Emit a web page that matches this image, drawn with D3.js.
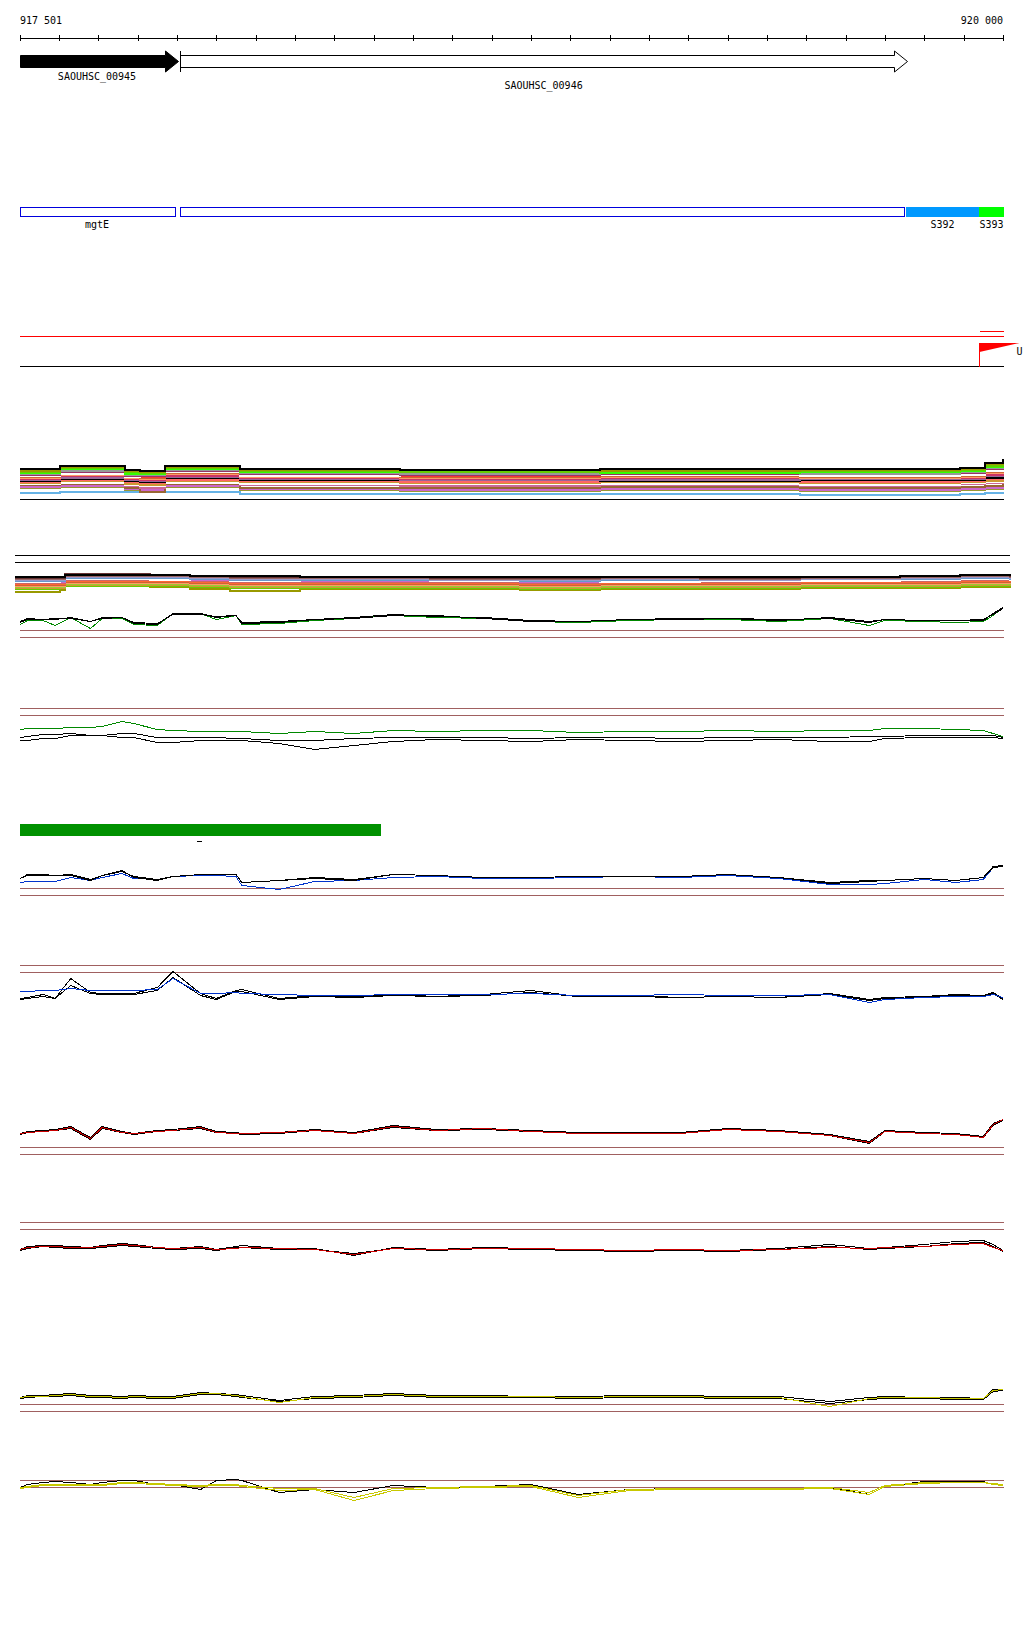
<!DOCTYPE html>
<html lang="en">
<head>
<meta charset="UTF-8">
<title>Genome browser tracks 917 501 - 920 000</title>
<style>
  body { margin: 0; background: #fff; }
  svg { display: block; font-family: "DejaVu Sans Mono", monospace; font-size: 10px; }
  .crisp { shape-rendering: crispEdges; }
</style>
</head>
<body>
<div id="chart"></div>
<script src="https://cdn.jsdelivr.net/npm/d3@7/dist/d3.min.js"></script>
<script>
// ---- data ----
var regionStart = 917501, regionEnd = 920000;
var rangeLabels = ["917 501", "920 000"];
var tickValues = d3.range(917500, 920001, 100);

// genes
var geneNames = ["SAOUHSC_00945", "SAOUHSC_00946"];
var geneStart = [917501, 917908];
var geneEnd = [917903, 919756];
var geneFilled = [true, false];

// annotated features
var featNames = ["mgtE", "", "S392", "S393"];
var featStart = [917501, 917908, 919753, 919939];
var featEnd = [917900, 919753, 919939, 920003];
var featColor = ["none", "none", "#0099ff", "#00ff00"];

// flag track
var flagPos = [919939];
var flagLabel = ["U"];

// green bar
var barStart = [917501];
var barEnd = [918420];
var dashPos = [917956];

// multicolour track A
var trackAPos = [917501, 917603, 917768, 917806, 917869, 918060, 918467, 918975, 919484, 919891, 919954, 920000];
var trackAColors = ["#000000", "#999900", "#66cc00", "#33ff00", "#999999", "#993366", "#ffffff", "#ff3333", "#cc6633", "#ff9966",
  "#cc3366", "#996699", "#000000", "#ff6666", "#cc9933", "#ffffff", "#cc6699", "#996633", "#cc66cc", "#999933", "#66b3e6"];
var trackAValues = [
  [30, 33, 29, 28, 33, 30, 29, 30, 30, 31, 36, 40],
  [28, 32, 28, 27, 32, 29, 29, 28, 29, 30, 35, 39],
  [27, 31, 27, 26, 31, 28, 27, 28, 28, 29, 33, 37],
  [26, 30, 25, 25, 30, 27, 27, 26, 27, 28, 32, 36],
  [25, 28, 24, 24, 29, 26, 25, 26, 25, 27, 31, 34],
  [24, 27, 23, 23, 28, 25, 24, 25, 25, 26, 30, 33],
  [23, 25, 22, 24, 27, 23, 25, 24, 23, 24, 28, 32],
  [23, 26, 23, 22, 27, 24, 23, 24, 24, 25, 29, 31],
  [22, 25, 22, 21, 26, 23, 22, 23, 22, 23, 27, 30],
  [21, 24, 21, 20, 25, 22, 21, 22, 21, 22, 26, 28],
  [20, 23, 20, 19, 23, 21, 20, 21, 21, 21, 24, 27],
  [19, 21, 19, 18, 22, 20, 19, 19, 20, 20, 23, 25],
  [18, 20, 18, 17, 21, 19, 19, 18, 19, 19, 21, 23],
  [17, 19, 17, 16, 19, 18, 17, 18, 17, 18, 20, 22],
  [16, 18, 15, 14, 18, 17, 16, 17, 16, 17, 18, 20],
  [15, 16, 14, 13, 16, 15, 15, 15, 14, 16, 17, 19],
  [16, 17, 13, 11, 17, 14, 13, 14, 13, 15, 16, 18],
  [14, 15, 11, 7, 15, 11, 11, 12, 11, 12, 13, 15],
  [12, 13, 10, 9, 13, 10, 9, 10, 9, 10, 11, 13],
  [11, 12, 9, 7, 12, 9, 8, 9, 8, 9, 10, 11],
  [6, 7, 7, 7, 7, 5, 5, 5, 4, 5, 6, 7]
];

// multicolour track B
var trackBPos = [917488, 917603, 917615, 917831, 917933, 918035, 918213, 918543, 918772, 918975, 919230, 919484, 919738, 919891, 920018];
var trackBColors = ["#000000", "#663333", "#996666", "#9999cc", "#6699cc", "#ffffff", "#cc66cc", "#cc6666", "#ff6633", "#cc6633",
  "#ff9966", "#99cc33", "#cc9933", "#66cc00", "#999900"];
var trackBValues = [
  [16, 16, 18, 18, 17, 17, 16, 16, 16, 16, 16, 16, 17, 18, 17],
  [15, 15, 19, 18, 17, 16, 16, 15, 15, 16, 15, 16, 17, 18, 16],
  [14, 14, 17, 17, 16, 15, 15, 14, 14, 15, 14, 15, 16, 17, 15],
  [13, 13, 16, 16, 15, 14, 14, 13, 13, 14, 13, 14, 15, 16, 14],
  [12, 12, 15, 15, 14, 13, 13, 13, 12, 13, 13, 14, 14, 15, 13],
  [11, 12, 14, 13, 14, 12, 13, 12, 12, 11, 12, 12, 13, 14, 12],
  [11, 11, 14, 14, 13, 12, 12, 12, 11, 12, 12, 13, 13, 14, 13],
  [10, 10, 13, 13, 12, 11, 11, 11, 10, 11, 11, 12, 12, 13, 12],
  [9, 9, 12, 12, 11, 10, 10, 10, 9, 10, 10, 11, 11, 12, 11],
  [8, 8, 11, 11, 10, 9, 9, 9, 8, 9, 9, 10, 10, 11, 10],
  [7, 7, 10, 10, 9, 8, 8, 8, 7, 8, 8, 9, 9, 10, 9],
  [6, 6, 9, 9, 8, 7, 7, 7, 6, 7, 7, 8, 8, 9, 8],
  [5, 5, 8, 8, 7, 6, 6, 6, 5, 6, 6, 7, 7, 8, 7],
  [4, 5, 7, 7, 6, 5, 5, 5, 4, 5, 5, 6, 6, 7, 6],
  [1, 3, 7, 6, 4, 2, 4, 4, 3, 4, 4, 5, 5, 6, 5]
];

// signal line tracks (shared positions)
var linePos = [917501, 917520, 917560, 917590, 917630, 917680, 917710, 917760, 917790, 917850, 917890, 917960, 918000,
  918050, 918065, 918160, 918250, 918350, 918450, 918560, 918680, 918800, 918920, 919050, 919180, 919300, 919430,
  919560, 919660, 919700, 919800, 919880, 919950, 919975, 920000];

var green1Black1 = [-2, 1, 1, 1, 3, -1, 3, 3, -3, -4, 7, 7, 3, 5, -2, -1, 1, 3, 6, 4, 3, 0, -1, 1, 2, 2, 0, 3, -1, 1, 0, 0, 0, 7, 13];
var green1Black2 = [-1, 2, 1, 2, 2, -1, 2, 3, -2, -3, 6, 6, 4, 5, -3, -2, 1, 2, 5, 5, 2, -1, -1, 1, 1, 2, 1, 2, -2, 1, 0, 0, 1, 6, 12];
var green1Green = [-4, 0, 0, -5, 3, -8, 2, 2, -4, -5, 7, 7, 1, 5, -4, -3, 0, 2, 5, 3, 2, -1, -2, 0, 1, 1, -1, 2, -5, 0, -1, -2, -1, 5, 13];

var green2Green = [6, 7, 7, 7, 8, 8, 9, 14, 12, 6, 5, 4, 4, 4, 4, 2, 4, 2, 5, 4, 5, 5, 3, 4, 4, 5, 4, 5, 5, 7, 7, 6, 5, 2, -1];
var green2Black1 = [-2, -1, 1, 1, 2, 0, 0, 2, 2, -2, -2, -2, -2, -3, -3, -5, -5, -3, -2, -2, -2, -3, -2, -2, -3, -2, -2, -2, -1, -1, 0, 0, 0, 0, -2];
var green2Black2 = [-5, -5, -3, -3, 0, 0, 0, -2, -2, -7, -7, -5, -5, -5, -5, -8, -14, -10, -6, -4, -5, -6, -4, -5, -6, -5, -4, -6, -6, -3, -2, -2, -2, -2, -3];

var blue1Black1 = [0, 3, 3, 3, 3, -2, 3, 8, 1, -2, 2, 4, 4, 4, -4, -2, 0, -2, 4, 3, 1, 1, 2, 2, 2, 4, 1, -4, -2, -2, 0, -2, 1, 12, 13];
var blue1Black2 = [0, 4, 4, 3, 4, -1, 3, 7, 2, -1, 2, 4, 4, 4, -4, -2, 1, -1, 4, 3, 1, 1, 2, 2, 2, 4, 1, -5, -3, -2, 0, -2, 1, 11, 12];
var blue1Blue = [-4, -3, -3, -3, 1, -2, 1, 5, 0, -1, 2, 3, 3, 2, -7, -11, -3, -2, 1, 2, 0, 0, 1, 2, 1, 3, 0, -6, -6, -5, -1, -4, -1, 11, 13];

var blue2Black1 = [-5, -4, -1, -5, 15, 1, 0, 0, 0, 6, 22, 0, -5, 3, 4, -5, -2, -3, -1, -3, -1, 3, -3, -2, -4, -3, -4, 0, -6, -4, -3, -1, -2, 1, -5];
var blue2Black2 = [-6, -5, -3, -5, 8, 0, -1, -1, -1, 3, 16, -2, -6, 2, 2, -6, -3, -4, -2, -3, -2, 1, -3, -3, -4, -3, -4, -1, -7, -5, -4, -2, -3, 0, -6];
var blue2Blue = [2, 2, 3, 3, 5, 3, 3, 3, 3, 4, 15, 0, 0, 1, 0, -1, -2, -2, -1, -1, -1, 0, -2, -2, -1, -2, -2, -1, -9, -6, -4, -3, -3, -1, -4];

var red1Black1 = [0, 2, 3, 4, 7, -4, 7, 2, 0, 3, 4, 7, 2, 1, 0, 1, 4, 1, 8, 4, 5, 3, 1, 1, 1, 5, 3, -1, -8, 3, 1, 0, -3, 10, 14];
var red1Black2 = [-1, 1, 2, 3, 5, -6, 5, 1, -1, 2, 3, 5, 1, 0, -1, 0, 3, 0, 6, 3, 4, 2, 0, 0, 0, 4, 2, -2, -10, 2, 0, -1, -4, 8, 13];
var red1Red = [0, 1, 2, 3, 6, -5, 6, 1, 0, 2, 3, 6, 1, 0, 0, 1, 3, 0, 7, 3, 5, 2, 0, 0, 0, 4, 2, -2, -9, 2, 0, -1, -4, 9, 14];

var red2Black1 = [-1, 2, 3, 3, 2, 1, 3, 5, 4, 1, 0, 2, -1, 2, 3, 0, 0, -7, 1, -1, 1, 0, -1, -2, -1, -2, 0, 4, 0, 1, 4, 7, 8, 4, -2];
var red2Black2 = [-2, 0, 2, 1, 0, 0, 1, 3, 2, 0, -1, 0, -2, 1, 1, -1, -1, -5, 0, -2, 0, -1, -2, -3, -2, -3, -1, 2, -1, 0, 2, 5, 6, 2, -3];
var red2Red = [-1, 1, 2, 2, 1, 1, 2, 4, 3, 1, 0, 1, -1, 0, 1, 0, -1, -6, 0, -1, 0, 0, -1, -2, -1, -2, -1, 1, 0, 1, 2, 4, 5, 1, -2];

var yellow1Black1 = [0, 2, 2, 3, 4, 2, 2, 1, 2, 1, 1, 5, 4, 3, 2, -3, 1, 2, 4, 2, 2, 1, 1, 2, 2, 1, 1, -4, 0, 1, 0, 0, -1, 8, 8];
var yellow1Black2 = [-1, 0, 1, 1, 2, 0, 0, -1, 0, -1, -1, 3, 3, 1, 0, -4, -1, 0, 2, 0, 0, 0, -1, 0, 0, -1, -1, -6, -2, -1, -1, -2, -2, 6, 7];
var yellow1Yellow = [0, 1, 1, 2, 3, 1, 1, 0, 1, 0, 0, 4, 4, 2, 1, -5, 0, 1, 3, 1, 1, 1, 0, 1, 1, 0, 0, -9, -1, 0, 0, -1, -1, 7, 8];

var yellow2Black = [-2, 1, 3, 4, 3, 1, 3, 5, 5, 1, 1, -4, 5, 6, 5, -7, -4, -7, 0, -2, -1, 1, -9, -4, -3, -4, -3, -2, -9, -1, 4, 4, 4, 1, 1];
var yellow2Yellow1 = [-3, -2, 0, 0, 0, 0, 0, 2, 2, 1, 0, -1, 0, 0, -1, -5, -4, -15, -5, -3, -2, -1, -12, -5, -4, -4, -4, -3, -9, -1, 2, 3, 3, 1, 0];
var yellow2Yellow2 = [-2, -1, 1, 1, 1, 1, 1, 3, 3, 2, 1, 0, 1, 1, 0, -3, -3, -12, -3, -2, -1, 0, -10, -4, -3, -3, -3, -2, -7, 0, 3, 3, 3, 2, 1];

// cut-off lines per signal track
var green1Cut = [-10, -17], green2Cut = [27, 20];
var blue1Cut = [-10, -17], blue2Cut = [28, 21];
var red1Cut = [-14, -21], red2Cut = [26, 19];
var yellow1Cut = [-7, -14], yellow2Cut = [5, -2];

// ---- layout ----
var width = 1024, height = 1640;
var cutColor = "#a06060";

var svg = d3.select("#chart").append("svg")
  .attr("width", width)
  .attr("height", height);

var x = d3.scaleLinear().domain([regionStart, regionEnd]).range([20, 1003]);
var px = function (v) { return Math.round(x(v)) + 0.5; };

// ruler
var ruler = svg.append("g").attr("class", "crisp");
ruler.append("line").attr("x1", x(regionStart)).attr("x2", x(regionEnd) + 1)
  .attr("y1", 38.5).attr("y2", 38.5).attr("stroke", "#000");
ruler.selectAll(".tick").data(tickValues).enter().append("line")
  .attr("x1", px).attr("x2", px)
  .attr("y1", 35).attr("y2", 41).attr("stroke", "#000");
svg.append("text").attr("x", x(regionStart)).attr("y", 24).text(rangeLabels[0]);
svg.append("text").attr("x", x(regionEnd)).attr("y", 24).attr("text-anchor", "end").text(rangeLabels[1]);

// genes
var genes = geneNames.map(function (n, i) {
  return { name: n, s: geneStart[i], e: geneEnd[i], filled: geneFilled[i] };
});
var gy0 = 55.5, gy1 = 67.5, hy0 = 51, hy1 = 72, head = 13;
genes.forEach(function (g, i) {
  var x0 = Math.round(x(g.s)) + 0.5, x1 = Math.round(x(g.e)) + 0.5, hx = x1 - head;
  var pts = [[x0, gy0], [hx, gy0], [hx, hy0], [x1, (hy0 + hy1) / 2], [hx, hy1], [hx, gy1], [x0, gy1]];
  svg.append("polygon")
    .attr("points", pts.map(function (p) { return p.join(","); }).join(" "))
    .attr("fill", g.filled ? "#000" : "#fff")
    .attr("stroke", "#000").attr("stroke-width", 1);
  if (!g.filled) {
    svg.append("line").attr("class", "crisp").attr("x1", x0).attr("x2", x0)
      .attr("y1", hy0).attr("y2", hy1).attr("stroke", "#000");
  }
  svg.append("text")
    .attr("x", i === 0 ? 97 : (x(g.s) + x(g.e)) / 2)
    .attr("y", i === 0 ? 80 : 89)
    .attr("text-anchor", "middle").text(g.name);
});

// features
var feats = featNames.map(function (n, i) {
  return { name: n, s: featStart[i], e: featEnd[i], c: featColor[i] };
});
var fg = svg.append("g").attr("class", "crisp");
fg.selectAll("rect").data(feats).enter().append("rect")
  .attr("x", function (d) { return d.c === "none" ? Math.round(x(d.s)) + 0.5 : Math.round(x(d.s)); })
  .attr("y", function (d) { return d.c === "none" ? 207.5 : 207; })
  .attr("width", function (d) { return Math.round(x(d.e)) - Math.round(x(d.s)) - (d.c === "none" ? 2 : 0); })
  .attr("height", function (d) { return d.c === "none" ? 9 : 10; })
  .attr("fill", function (d) { return d.c === "none" ? "#fff" : d.c; })
  .attr("stroke", function (d) { return d.c === "none" ? "#0000dd" : "none"; });
fg.selectAll("text").data(feats.filter(function (d) { return d.name; })).enter().append("text")
  .attr("x", function (d, i) { return i === 0 ? 97 : (x(d.s) + x(d.e)) / 2; })
  .attr("y", 228).attr("text-anchor", "middle").text(function (d) { return d.name; });

// flag track
var flagG = svg.append("g").attr("class", "crisp");
flagG.append("line").attr("x1", x(regionStart)).attr("x2", x(regionEnd) + 1)
  .attr("y1", 336.5).attr("y2", 336.5).attr("stroke", "#ff0000");
flagG.append("line").attr("x1", x(regionStart)).attr("x2", x(regionEnd) + 1)
  .attr("y1", 366.5).attr("y2", 366.5).attr("stroke", "#000");
flagPos.forEach(function (p, i) {
  var fx = Math.round(x(p)) + 0.5;
  flagG.append("line").attr("x1", fx).attr("x2", x(regionEnd) + 1)
    .attr("y1", 331.5).attr("y2", 331.5).attr("stroke", "#ff0000");
  flagG.append("line").attr("x1", fx).attr("x2", fx)
    .attr("y1", 343).attr("y2", 367).attr("stroke", "#ff0000");
  svg.append("polygon")
    .attr("points", [[fx, 343], [fx + 40, 343], [fx, 352]].map(function (q) { return q.join(","); }).join(" "))
    .attr("fill", "#ff0000");
  svg.append("text").attr("x", fx + 37).attr("y", 355).attr("font-size", 10).text(flagLabel[i]);
});

// multicolour tracks
function stepTrack(pos, values, colors, base) {
  var y = d3.scaleLinear().domain([0, 40]).range([base, base - 40]);
  var line = d3.line()
    .x(function (d) { return x(d[0]); })
    .y(function (d) { return Math.round(y(d[1])); })
    .curve(d3.curveStepAfter);
  var g = svg.append("g").attr("class", "crisp");
  g.selectAll("path").data(values).enter().append("path")
    .attr("d", function (v) { return line(pos.map(function (p, i) { return [p, v[i]]; })); })
    .attr("fill", "none")
    .attr("stroke", function (v, i) { return colors[i]; })
    .attr("stroke-width", 2);
}
stepTrack(trackAPos, trackAValues.slice().reverse(), trackAColors.slice().reverse(), 499);
svg.append("line").attr("class", "crisp").attr("x1", x(regionStart)).attr("x2", x(regionEnd) + 1)
  .attr("y1", 499.5).attr("y2", 499.5).attr("stroke", "#000");

[555.5, 562.5].forEach(function (yy) {
  svg.append("line").attr("class", "crisp").attr("x1", x(trackBPos[0])).attr("x2", x(trackBPos[trackBPos.length - 1]))
    .attr("y1", yy).attr("y2", yy).attr("stroke", "#000");
});
stepTrack(trackBPos, trackBValues.slice().reverse(), trackBColors.slice().reverse(), 593);

// green bar
barStart.forEach(function (s, i) {
  svg.append("rect").attr("class", "crisp")
    .attr("x", Math.round(x(s))).attr("y", 824)
    .attr("width", Math.round(x(barEnd[i])) - Math.round(x(s))).attr("height", 12)
    .attr("fill", "#009100");
});
dashPos.forEach(function (p) {
  svg.append("line").attr("class", "crisp")
    .attr("x1", Math.round(x(p)) - 2).attr("x2", Math.round(x(p)) + 3)
    .attr("y1", 841.5).attr("y2", 841.5).attr("stroke", "#000");
});

// signal line tracks
function signalTrack(base, series, colors, cuts) {
  var y = d3.scaleLinear().domain([-30, 30]).range([base + 30, base - 30]);
  var g = svg.append("g").attr("class", "crisp");
  cuts.forEach(function (c) {
    g.append("line").attr("x1", x(regionStart)).attr("x2", x(regionEnd) + 1)
      .attr("y1", Math.round(y(c)) + 0.5).attr("y2", Math.round(y(c)) + 0.5)
      .attr("stroke", cutColor);
  });
  var line = d3.line()
    .x(function (d) { return x(d[0]); })
    .y(function (d) { return y(d[1]) + 0.5; });
  series.forEach(function (v, i) {
    g.append("path")
      .attr("d", line(linePos.map(function (p, k) { return [p, v[k]]; })))
      .attr("fill", "none").attr("stroke", colors[i]).attr("stroke-width", 1);
  });
}
signalTrack(620, [green1Green, green1Black2, green1Black1], ["#008800", "#000", "#000"], green1Cut);
signalTrack(735, [green2Black2, green2Black1, green2Green], ["#000", "#000", "#008800"], green2Cut);
signalTrack(878, [blue1Blue, blue1Black2, blue1Black1], ["#0033cc", "#000", "#000"], blue1Cut);
signalTrack(993, [blue2Black2, blue2Black1, blue2Blue], ["#000", "#000", "#0033cc"], blue2Cut);
signalTrack(1133, [red1Black1, red1Black2, red1Red], ["#000", "#000", "#cc0000"], red1Cut);
signalTrack(1248, [red2Black1, red2Black2, red2Red], ["#000", "#000", "#cc0000"], red2Cut);
signalTrack(1397, [yellow1Black1, yellow1Black2, yellow1Yellow], ["#000", "#000", "#c8c800"], yellow1Cut);
signalTrack(1485, [yellow2Black, yellow2Yellow2, yellow2Yellow1], ["#000", "#c8c800", "#c8c800"], yellow2Cut);
</script>
</body>
</html>
